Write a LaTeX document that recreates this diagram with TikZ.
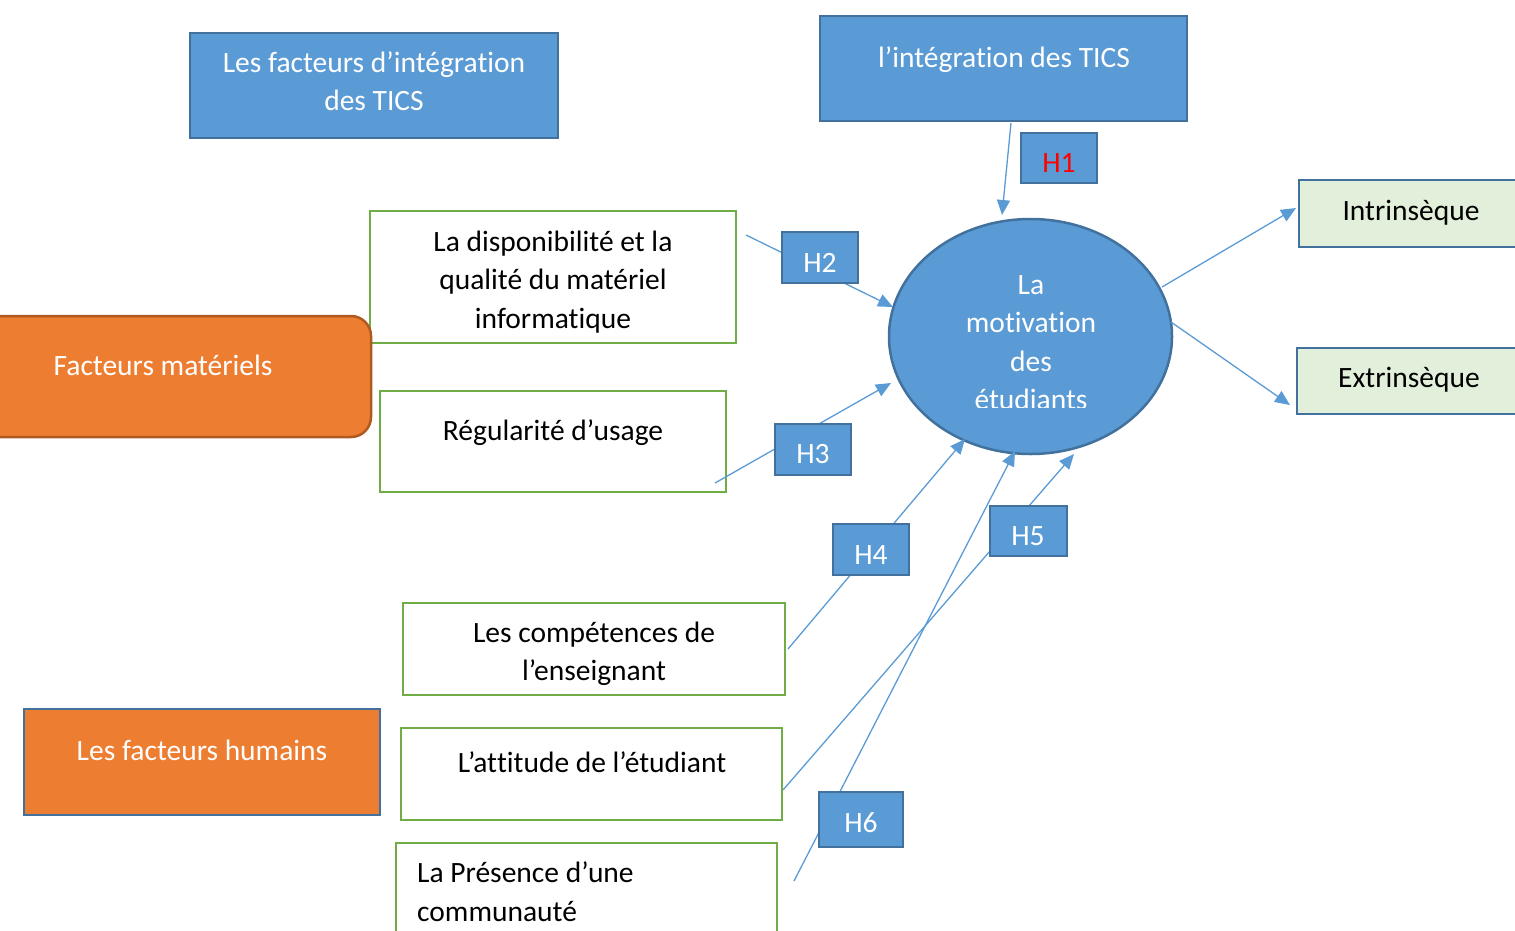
\documentclass[tikz,border=0pt]{standalone}
\usepackage{fontspec}
\setmainfont[Ligatures={NoCommon,NoContextual}]{Carlito}
\usetikzlibrary{arrows.meta,shapes.geometric}
\definecolor{bl}{HTML}{5B9BD5}
\definecolor{bld}{HTML}{41719C}
\definecolor{og}{HTML}{ED7D31}
\definecolor{ogd}{HTML}{AE5A21}
\definecolor{gr}{HTML}{70AD47}
\definecolor{lgr}{HTML}{E2EFDA}
\definecolor{hred}{HTML}{FF0000}
\begin{document}
\begin{tikzpicture}[x=1pt,y=-1pt,
  box/.style={rectangle, inner sep=0pt, outer sep=0pt, line width=2.5pt},
  bluebox/.style={box, fill=bl, draw=bld},
  greenbox/.style={box, fill=white, draw=gr},
  lgbox/.style={box, fill=lgr, draw=bld},
  orbox/.style={box, fill=og},
  hbox/.style={box, fill=bl, draw=bld},
  txt/.style={inner sep=0pt, anchor=base, font=\fontsize{29.5}{36}\selectfont},
  wtxt/.style={txt, text=white},
  conn/.style={draw=bl, line width=1.3pt, -{Triangle[length=15pt,width=13pt]}},
]
\useasboundingbox (0,0) rectangle (1515,930);
\clip (0,0) rectangle (1515,930);

% boxes
\node[bluebox, minimum width=368pt, minimum height=105pt] (fac) at (374,85.5) {};
\node[bluebox, minimum width=367pt, minimum height=105pt] (integ) at (1003.5,68.5) {};
\node[lgbox, minimum width=226pt, minimum height=67pt] (intr) at (1412,213.5) {};
\node[lgbox, minimum width=228pt, minimum height=66pt] (extr) at (1411,381) {};
\node[greenbox, minimum width=366pt, minimum height=132pt] (dispo) at (553,277) {};
\node[greenbox, minimum width=346pt, minimum height=101pt] (regul) at (553,441.5) {};
\node[greenbox, minimum width=382pt, minimum height=92pt] (compet) at (594,649) {};
\node[greenbox, minimum width=381pt, minimum height=92pt] (attit) at (591.5,774) {};
\node[greenbox, minimum width=381pt, minimum height=117pt] (pres) at (586.5,901.5) {};
\node[orbox, draw=ogd, rounded corners=20pt, minimum width=391pt, minimum height=121pt] (mat) at (175.5,376.5) {};
\node[orbox, draw=bld, minimum width=356pt, minimum height=106pt] (hum) at (202,762) {};
\node[ellipse, fill=bl, draw=bld, line width=2.5pt, inner sep=0pt, minimum width=283pt, minimum height=235pt] (mot) at (1030.5,336.5) {};

% texts
\node[wtxt] (tfac1) at (374,72) {Les facteurs d’intégration};
\node[wtxt] (tfac2) at (374,110) {des TICS};
\node[wtxt] (tinteg) at (1004,67) {l’intégration des TICS};
\node[txt] (tintr) at (1411,220) {Intrinsèque};
\node[txt] (textr) at (1409,387) {Extrinsèque};
\node[txt] (td1) at (553,251) {La disponibilité et la};
\node[txt] (td2) at (553,289) {qualité du matériel};
\node[txt] (td3) at (553,328) {informatique};
\node[txt] (treg) at (553,440) {Régularité d’usage};
\node[txt] (tc1) at (594,642) {Les compétences de};
\node[txt] (tc2) at (594,680) {l’enseignant};
\node[txt] (tatt) at (592,772) {L’at\kern0pt t\kern0pt itude de l’étudiant};
\node[txt, anchor=base west] (tp1) at (417,882) {La Présence d’une};
\node[txt, anchor=base west] (tp2) at (417,921) {communauté};
\node[wtxt] (tmat) at (163,375) {Facteurs matériels};
\node[wtxt] (thum) at (202,760) {Les facteurs humains};
\begin{scope}
\clip (880,240) rectangle (1180,407);
\node[wtxt] (tm1) at (1031,294) {La};
\node[wtxt] (tm2) at (1031,332) {motivat\kern0pt ion};
\node[wtxt] (tm3) at (1031,371) {des};
\node[wtxt] (tm4) at (1031,409) {étudiants};
\end{scope}

% connector end points
\coordinate (s1) at (1011,123); \coordinate (e1) at (1002,215);
\coordinate (s2) at (746,235);  \coordinate (e2) at (893,307);
\coordinate (s3) at (715,483);  \coordinate (e3) at (891,383);
\coordinate (s4) at (788,649);  \coordinate (e4) at (965,439);
\coordinate (s5) at (783,790);  \coordinate (e5) at (1074,454);
\coordinate (s6) at (794,881);  \coordinate (e6) at (1015,451);
\coordinate (si) at (1162,287); \coordinate (ei) at (1296,208);
\coordinate (sx) at (1171,322); \coordinate (ex) at (1290,405);

\draw[conn] (s1) -- (e1);
\draw[conn] (s2) -- (e2);
\draw[conn] (s3) -- (e3);
\draw[conn] (s4) -- (e4);
\draw[conn] (s5) -- (e5);
\draw[conn] (s6) -- (e6);
\draw[conn] (si) -- (ei);
\draw[conn] (sx) -- (ex);

% hypothesis boxes
\node[hbox, minimum width=76pt, minimum height=50pt] (h1) at (1059,158) {};
\node[hbox, minimum width=76pt, minimum height=51pt] (h2) at (820,257.5) {};
\node[hbox, minimum width=76pt, minimum height=51pt] (h3) at (813,449.5) {};
\node[hbox, minimum width=76pt, minimum height=51pt] (h4) at (871,549.5) {};
\node[hbox, minimum width=77pt, minimum height=50pt] (h5) at (1028.5,531) {};
\node[hbox, minimum width=84pt, minimum height=55pt] (h6) at (861,819.5) {};
\node[txt, text=hred] (th1) at (1059,172) {H1};
\node[wtxt] (th2) at (820,272) {H2};
\node[wtxt] (th3) at (813,463) {H3};
\node[wtxt] (th4) at (871,564) {H4};
\node[wtxt] (th5) at (1028,545) {H5};
\node[wtxt] (th6) at (861,832) {H6};
\end{tikzpicture}
\end{document}
